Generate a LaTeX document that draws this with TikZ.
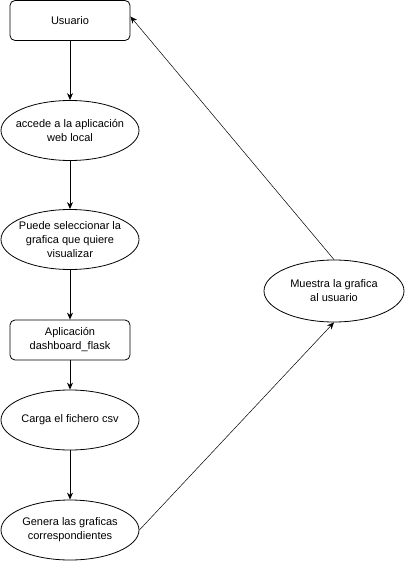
\documentclass[tikz,border=0pt]{standalone}
\usepackage{fontspec}
\setmainfont{Liberation Sans}
\usetikzlibrary{shapes.geometric,arrows.meta}
\begin{document}
\begin{tikzpicture}[x=1pt,y=-1pt,
  every node/.style={font=\fontsize{11}{14}\selectfont, align=center},
  rbox/.style={draw, rounded corners=5pt, minimum width=120pt, minimum height=40pt, inner sep=0pt, line width=0.8pt},
  ell/.style={draw, ellipse, minimum width=138pt, minimum height=60pt, inner xsep=-30pt, inner ysep=-10pt, line width=0.8pt},
  flow/.style={-{Stealth[length=7pt,width=6pt]}, line width=0.9pt},
  thin/.style={-{Stealth[length=7pt,width=6pt]}, line width=0.5pt}]
\useasboundingbox (0,0) rectangle (405,561);
\node[rbox] (u) at (70,20.5) {Usuario};
\node[ell] (a) at (70,130.5) {accede a la aplicación\\web local};
\node[ell] (p) at (70,239.5) {Puede seleccionar la\\grafica que quiere\\visualizar};
\node[rbox] (d) at (70,340) {Aplicación\\dashboard\_flask};
\node[ell] (c) at (70,420) {Carga el fichero csv};
\node[ell] (g) at (70,530) {Genera las graficas\\correspondientes};
\node[ell, minimum width=140pt, minimum height=62pt] (m) at (334,291) {Muestra la grafica\\al usuario};
\draw[flow] (u) -- (a);
\draw[flow] (a) -- (p);
\draw[flow] (p) -- (d);
\draw[flow] (d) -- (c);
\draw[flow] (c) -- (g);
\draw[thin] (g.east) -- (m.south);
\draw[thin] (m.north) -- ([yshift=4pt]u.east);
\end{tikzpicture}
\end{document}
